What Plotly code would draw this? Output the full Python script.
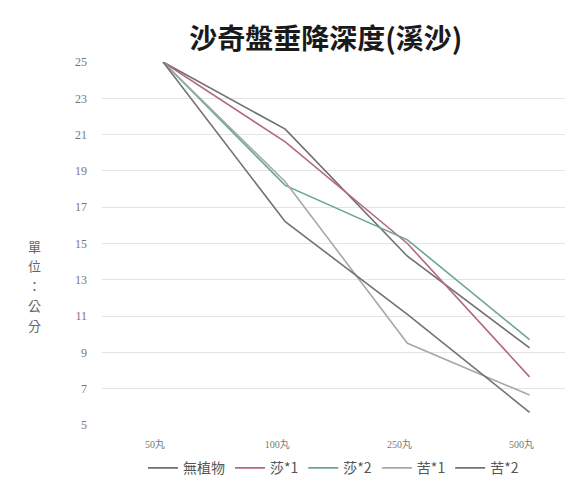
import plotly.graph_objects as go

# Sand-disc sinking depth (creek sand), in cm, for each load level
loads = ["50丸", "100丸", "250丸", "500丸"]
series_names = ["無植物", "莎*1", "莎*2", "苦*1", "苦*2"]
no_plant = [25, 21.3, 14.3, 9.25]
sha_1 = [25, 20.6, 15.0, 7.65]
sha_2 = [25, 18.2, 15.2, 9.7]
ku_1 = [25, 18.4, 9.5, 6.65]
ku_2 = [25, 16.2, 11.1, 5.7]
y_ticks = [5, 7, 9, 11, 13, 15, 17, 19, 21, 23, 25]
unit_label = "單位：公分"

series_values = [no_plant, sha_1, sha_2, ku_1, ku_2]
line_colors = ["#6f6f6f", "#b46a7c", "#6aa596", "#a8a8a8", "#727272"]

cjk = "Noto Sans CJK TC"
fig = go.Figure()
for name, vals, color in zip(series_names, series_values, line_colors):
    fig.add_trace(go.Scatter(
        x=loads, y=vals, name=name, mode="lines",
        line=dict(color=color, width=1.6),
    ))

fig.update_layout(
    width=587, height=483,
    margin=dict(l=102, r=22, t=62, b=58, autoexpand=False),
    paper_bgcolor="white", plot_bgcolor="white",
    title=dict(
        text="沙奇盤垂降深度(溪沙)",
        x=0.555, xanchor="center", y=0.918, yanchor="middle",
        font=dict(family=cjk, size=28, color="#1a1a1a", weight="bold"),
    ),
    xaxis=dict(
        type="category", range=[-0.5, 3.29], automargin=False,
        showgrid=False, showline=False, zeroline=False, ticks="",
        ticklabelstandoff=12, ticklabelshift=-8,
        tickfont=dict(family="Liberation Serif, " + cjk, size=10, color="#777777"),
    ),
    yaxis=dict(
        range=[5, 25], tickvals=y_ticks, ticktext=[str(v) for v in y_ticks],
        automargin=False,
        showgrid=True, gridcolor="#e4e4e4", gridwidth=1,
        zeroline=False, showline=False, ticks="", ticklabelstandoff=14,
        tickfont=dict(family="Liberation Serif", size=12, color="#777777"),
    ),
    legend=dict(
        orientation="h", x=0.5, xanchor="center", y=-0.075, yanchor="top",
        itemwidth=30, tracegroupgap=0,
        font=dict(family=cjk, size=14, color="#555555"),
    ),
    showlegend=True,
)

# Vertical unit label beside the value axis, one character per row
for i, ch in enumerate(unit_label):
    fig.add_annotation(
        text=ch, xref="paper", yref="paper",
        x=-0.145, y=0.493 - i * 0.0545, xanchor="center", yanchor="middle",
        showarrow=False,
        font=dict(family=cjk, size=13, color="#666666"),
    )

fig.write_html("out.html")
